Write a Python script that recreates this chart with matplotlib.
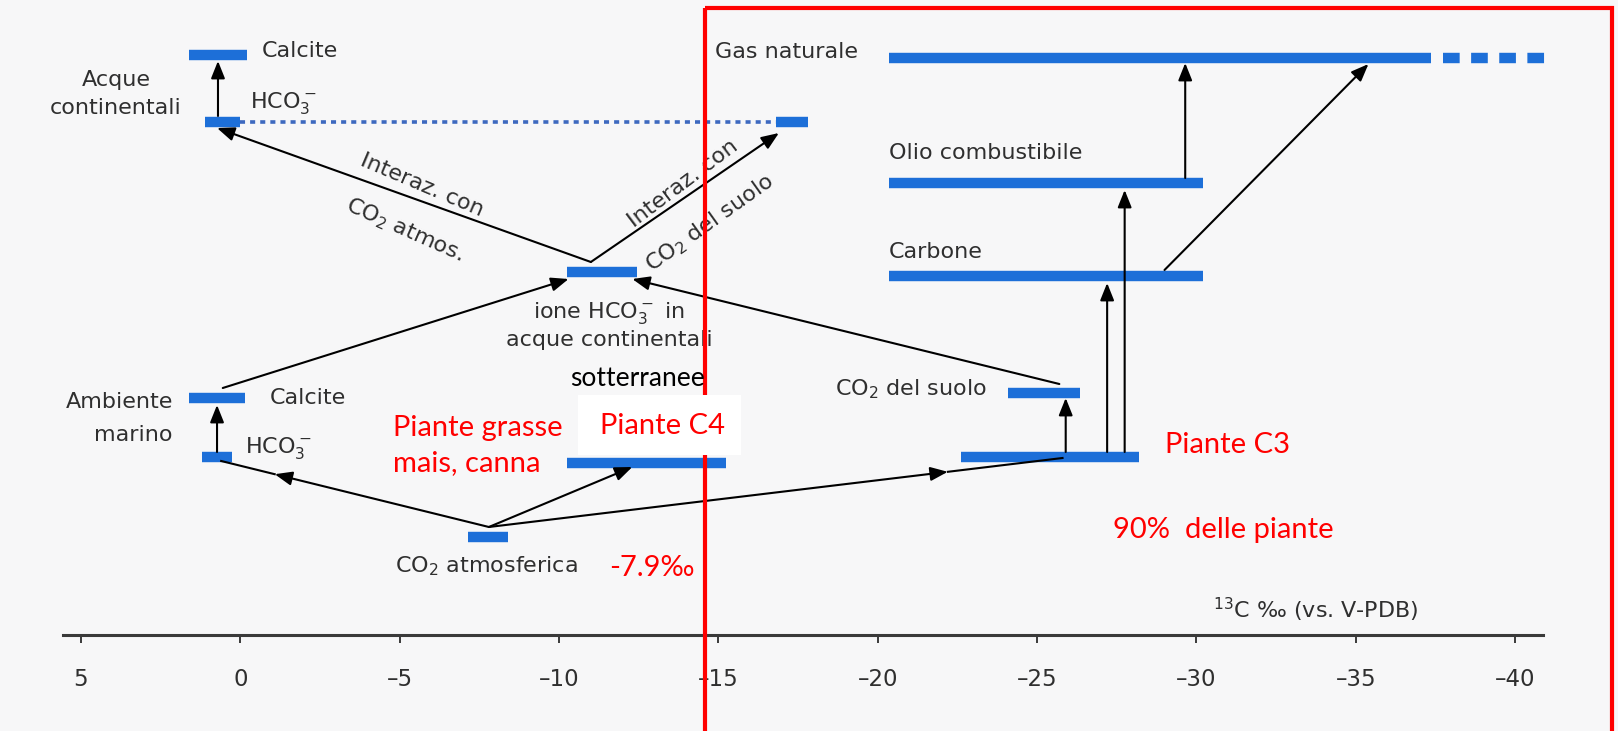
import matplotlib.pyplot as plt
from matplotlib.patches import Rectangle

plt.rcParams['mathtext.default'] = 'regular'

# delta 13C (per mille vs. V-PDB), estremi delle barre
bar_names = ['Calcite (acque cont.)', 'HCO3 (acque cont.)', 'HCO3 (CO2 suolo)',
             'ione HCO3', 'Calcite (marino)', 'HCO3 (marino)', 'Piante C4',
             'CO2 atmosferica', 'CO2 del suolo', 'Piante C3', 'Carbone',
             'Olio combustibile', 'Gas naturale']
bar_from = [1.6, 1.1, -16.8, -10.25, 1.6, 1.2, -10.25, -7.15, -24.1, -22.6, -20.35, -20.35, -20.35]
bar_to = [-0.2, 0.0, -17.8, -12.45, -0.15, 0.25, -15.25, -8.4, -26.35, -28.2, -30.2, -30.2, -37.35]
gas_tail = [-37.75, -41.0]          # parte tratteggiata del gas naturale
link_dotted = [0.0, -16.8]          # HCO3 acque continentali, linea punteggiata

xticks = [5, 0, -5, -10, -15, -20, -25, -30, -35, -40]
xtick_labels = ['5', '0', '–5', '–10', '–15', '–20', '–25', '–30', '–35', '–40']

# frecce: x in per mille, y in righe del diagramma
arr_x0 = [0.70, -11.0, -11.0, 0.55, -25.7, 0.73, -7.8, -7.8, -7.8, -25.9, -27.2, -27.75, -29.65, -29.0]
arr_x1 = [0.70, 0.73, -16.9, -10.3, -12.3, 0.73, 0.6, -12.3, -25.8, -25.9, -27.2, -27.75, -29.65, -35.4]

# layout (righe in pixel dall'alto)
bar_rows = [55, 122, 122, 272, 398, 457, 463, 537, 393, 457, 276, 183, 58]
arr_y0 = [116, 262, 262, 388, 384, 452, 527, 527, 527, 452, 452, 452, 178, 270]
arr_y1 = [61, 128, 133, 279, 279, 405, 461, 467, 458, 398, 283, 190, 63, 64]
arr_mid = [False, False, False, False, False, False, True, False, True,
           False, False, False, False, False]

blue = '#1d6fd8'
grey = '#2f2f2f'
red = '#ff0000'

fig = plt.figure(figsize=(16.18, 7.31), dpi=100, facecolor='#f7f7f8')
ax = fig.add_axes([0, 96 / 731, 1, 635 / 731])
ax.set_facecolor('none')
ax.set_xlim(7.54, -43.23)
ax.set_ylim(635, 0)

# barre
for x0, x1, r in zip(bar_from, bar_to, bar_rows):
    ax.plot([x0, x1], [r, r], color=blue, lw=7.5, solid_capstyle='butt', zorder=2)
ax.plot(gas_tail, [58, 58], color=blue, lw=7.5, ls=(0, (1.6, 1.1)),
        dash_capstyle='butt', zorder=2)
ax.plot(link_dotted, [122, 122], color='#3d69c0', lw=2.6, ls=(0, (1.4, 1.4)),
        dash_capstyle='butt', zorder=1)

# frecce
aprops = dict(arrowstyle='-|>,head_length=0.75,head_width=0.3', color='black',
              lw=1.5, shrinkA=0, shrinkB=0, mutation_scale=14)
for x0, y0, x1, y1, mid in zip(arr_x0, arr_y0, arr_x1, arr_y1, arr_mid):
    if mid:
        xm = x0 + 0.8 * (x1 - x0)
        ym = y0 + 0.8 * (y1 - y0)
        ax.annotate('', xy=(xm, ym), xytext=(x0, y0), arrowprops=aprops, zorder=3)
        ax.plot([xm, x1], [ym, y1], color='black', lw=1.5, zorder=3)
    else:
        ax.annotate('', xy=(x1, y1), xytext=(x0, y0), arrowprops=aprops, zorder=3)

# asse x
for s in ['top', 'left', 'right']:
    ax.spines[s].set_visible(False)
ax.spines['bottom'].set_bounds(5.56, -40.87)
ax.spines['bottom'].set_linewidth(2.2)
ax.spines['bottom'].set_color('#3a3a3a')
ax.set_yticks([])
ax.set_xticks(xticks)
ax.set_xticklabels(xtick_labels)
ax.tick_params(axis='x', direction='out', length=6, width=1.4, color='#3a3a3a',
               labelsize=16.5, labelcolor=grey, pad=18)

# etichette del diagramma originale
fs = 16
tk = dict(color=grey, fontsize=fs, va='center')
ax.text(-0.68, 51, 'Calcite', ha='left', **tk)
ax.text(3.9, 80, 'Acque', ha='center', **tk)
ax.text(3.9, 108, 'continentali', ha='center', **tk)
ax.text(-0.30, 103, 'HCO$_3^-$', ha='left', **tk)
ax.text(-5.70, 185, 'Interaz. con', ha='center', rotation=-23, rotation_mode='anchor', **tk)
ax.text(-5.17, 230, 'CO$_2$ atmos.', ha='center', rotation=-24, rotation_mode='anchor', **tk)
ax.text(-13.89, 184, 'Interaz. con', ha='center', rotation=37, rotation_mode='anchor', **tk)
ax.text(-14.74, 223, 'CO$_2$ del suolo', ha='center', rotation=35.5, rotation_mode='anchor', **tk)
ax.text(-11.57, 313, 'ione HCO$_3^-$ in', ha='center', **tk)
ax.text(-11.57, 340, 'acque continentali', ha='center', **tk)
ax.text(3.78, 402, 'Ambiente', ha='center', **tk)
ax.text(3.37, 435, 'marino', ha='center', **tk)
ax.text(-0.93, 398, 'Calcite', ha='left', **tk)
ax.text(-0.15, 448, 'HCO$_3^-$', ha='left', **tk)
ax.text(-4.85, 566, 'CO$_2$ atmosferica', ha='left', **tk)
ax.text(-14.89, 52, 'Gas naturale', ha='left', **tk)
ax.text(-20.35, 153, 'Olio combustibile', ha='left', **tk)
ax.text(-20.35, 252, 'Carbone', ha='left', **tk)
ax.text(-18.66, 389, 'CO$_2$ del suolo', ha='left', **tk)
ax.text(-30.52, 610, '$^{13}$C ‰ (vs. V-PDB)', ha='left', **tk)

# riquadro rosso e note aggiunte
ax.add_patch(Rectangle((-14.58, 8), -28.45, 740, fill=False, ec=red, lw=3,
                       clip_on=False, zorder=5))
ax.add_patch(Rectangle((-10.6, 395), -5.1, 60, fc='white', ec='none',
                       clip_on=False, zorder=6))
rk = dict(color=red, fontsize=21, va='center', ha='left',
          family=['Lato', 'DejaVu Sans'], zorder=7)
ax.text(-4.79, 428, 'Piante grasse', **rk)
ax.text(-4.79, 463, 'mais, canna', **rk)
ax.text(-11.28, 426, 'Piante C4', **rk)
ax.text(-11.57, 568, '-7.9‰', **rk)
ax.text(-29.01, 445, 'Piante C3', **rk)
ax.text(-27.38, 530, '90%  delle piante', **rk)
ax.text(-10.34, 378, 'sotterranee', color='black', fontsize=19, va='center',
        ha='left', family=['Lato', 'DejaVu Sans'], zorder=7)

fig.savefig('out.png', dpi=100, facecolor=fig.get_facecolor())
